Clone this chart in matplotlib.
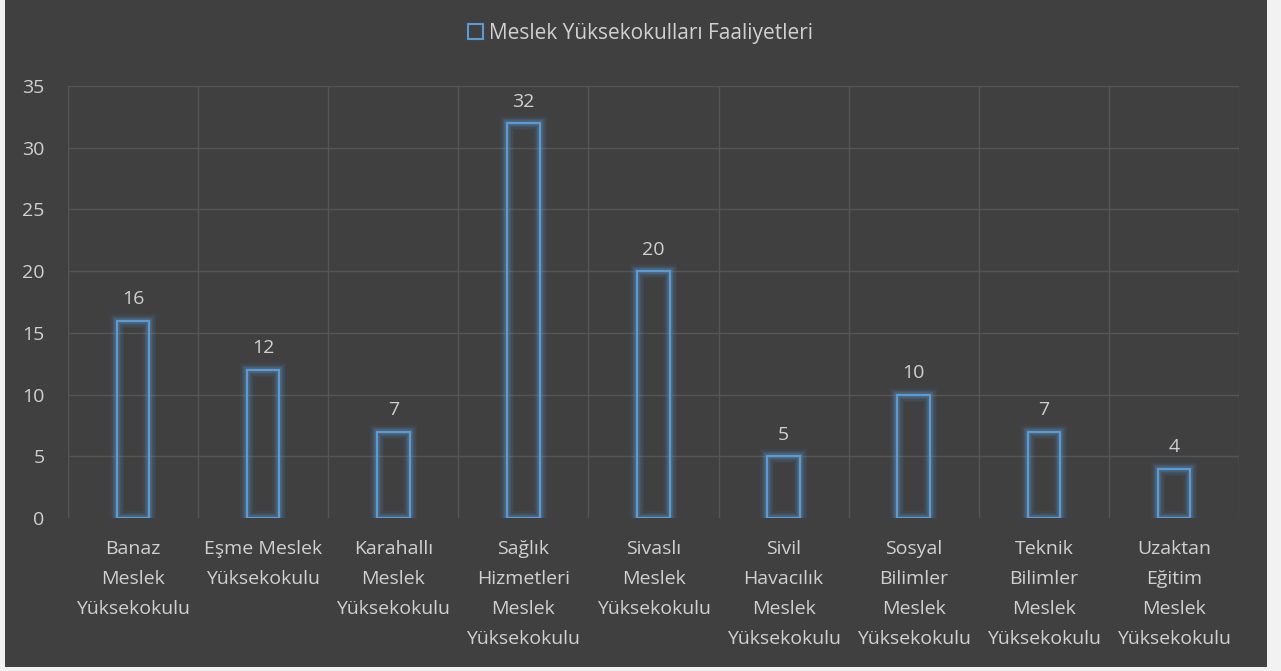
import matplotlib.pyplot as plt
from matplotlib.patches import Rectangle

categories = [
    "Banaz\nMeslek\nYüksekokulu",
    "Eşme Meslek\nYüksekokulu",
    "Karahallı\nMeslek\nYüksekokulu",
    "Sağlık\nHizmetleri\nMeslek\nYüksekokulu",
    "Sivaslı\nMeslek\nYüksekokulu",
    "Sivil\nHavacılık\nMeslek\nYüksekokulu",
    "Sosyal\nBilimler\nMeslek\nYüksekokulu",
    "Teknik\nBilimler\nMeslek\nYüksekokulu",
    "Uzaktan\nEğitim\nMeslek\nYüksekokulu",
]
values = [16, 12, 7, 32, 20, 5, 10, 7, 4]
series_name = "Meslek Yüksekokulları Faaliyetleri"
yticks = [0, 5, 10, 15, 20, 25, 30, 35]

W, H = 1281, 671
bg = "#404040"
grid_c = "#555555"
text_c = "#d0d0d0"
edge_c = "#5b9bd5"

plt.rcParams['font.family'] = ['Open Sans', 'DejaVu Sans']

fig = plt.figure(figsize=(W / 100, H / 100), dpi=100, facecolor="#f2f2f2")
# dark chart area with a light strip on the left/right/bottom edges
fig.patches.append(Rectangle((5 / W, 4 / H), 1262 / W, 1 - 4 / H,
                             transform=fig.transFigure, facecolor=bg,
                             edgecolor="none", zorder=-10))

ax = fig.add_axes([68 / W, 1 - 518 / H, (1239 - 68) / W, (518 - 86) / H])
ax.set_facecolor("none")

x = list(range(len(values)))
# soft glow round the outline
for lw, a in [(10, 0.06), (8, 0.08), (6, 0.12), (4, 0.2)]:
    ax.bar(x, values, width=0.25, facecolor="none", edgecolor=edge_c,
           linewidth=lw, alpha=a, zorder=3)
ax.bar(x, values, width=0.25, facecolor="none", edgecolor=edge_c,
       linewidth=1.6, zorder=4)

for xi, v in zip(x, values):
    ax.annotate(str(v), (xi, v), xytext=(0, 9), textcoords="offset points",
                ha="center", va="bottom", color=text_c, fontsize=14)

ax.set_xlim(-0.5, len(values) - 0.5)
ax.set_ylim(0, 35)
ax.set_yticks(yticks)
ax.set_xticks(x)
ax.set_xticklabels(categories, color=text_c, fontsize=14, linespacing=1.85)
ax.tick_params(axis="y", colors=text_c, labelsize=14, length=0, pad=17)
ax.tick_params(axis="x", length=0, pad=16)
for lab in ax.get_yticklabels():
    lab.set_color(text_c)

# gridlines: horizontal at ticks, vertical between categories
for y in yticks[1:]:
    ax.axhline(y, color=grid_c, linewidth=1, zorder=1)
for b in range(len(values) + 1):
    ax.axvline(b - 0.5, color=grid_c, linewidth=1, zorder=1)
for s in ax.spines.values():
    s.set_visible(False)

handle = Rectangle((0, 0), 1, 1, facecolor="none", edgecolor=edge_c, linewidth=1.5)
leg = fig.legend([handle], [series_name], loc="center", bbox_to_anchor=(0.5, 1 - 33 / H),
                 frameon=False, fontsize=15, handlelength=0.7, handleheight=0.7,
                 handletextpad=0.3)
for t in leg.get_texts():
    t.set_color(text_c)

fig.savefig("out.png", dpi=100, facecolor=fig.get_facecolor())
